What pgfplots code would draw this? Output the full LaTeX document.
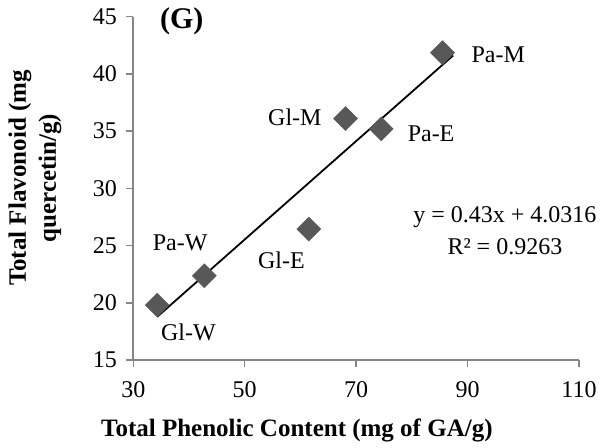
\documentclass[border=0pt]{standalone}
\usepackage{fontspec}
\setmainfont{Liberation Serif}
\usepackage{pgfplots}
\pgfplotsset{compat=1.18}
\definecolor{axgray}{HTML}{868686}
\definecolor{mk}{HTML}{585858}
\begin{document}
\begin{tikzpicture}
\begin{axis}[
  scale only axis, width=445.7pt, height=343.3pt,
  xmin=30, xmax=110, ymin=15, ymax=45,
  xtick={30,50,70,90,110}, ytick={15,20,...,45},
  axis x line*=bottom, axis y line*=left,
  axis line style={axgray, line width=1.8pt, -},
  tick style={axgray, line width=1.5pt},
  tick align=outside, major tick length=7pt,
  /pgf/number format/assume math mode=true,
  xticklabel style={font=\fontsize{24}{26}\selectfont, yshift=-11pt},
  yticklabel style={font=\fontsize{24}{26}\selectfont, xshift=-6pt},
  xlabel={Total Phenolic Content (mg of GA/g)},
  xlabel style={font=\fontsize{25}{28}\selectfont\bfseries, at={(axis description cs:0.367,-0.205)}, anchor=center},
  ylabel={Total Flavonoid (mg\\quercetin/g)},
  ylabel style={align=center, font=\fontsize{25}{30}\selectfont\bfseries, at={(axis description cs:-0.2206,0.53)}, anchor=center},
  clip=false,
]
\coordinate (SW) at (rel axis cs:0,0);
\addplot[black, line width=1.8pt] coordinates {(34.3,18.78) (87.4,41.61)};
\addplot[only marks, mark=square*, mark size=8.5pt, mark options={rotate=45, fill=mk, draw=mk}] coordinates {
  (34.3,19.8) (42.75,22.36) (61.5,26.44) (68.1,36.1) (74.5,35.2) (85.5,41.85)};
\begin{scope}[every node/.style={font=\fontsize{24}{27}\selectfont, anchor=center}]
\node at (axis cs:95.5,41.65) {Pa-M};
\node at (axis cs:59.0,36.2) {Gl-M};
\node at (axis cs:83.45,34.75) {Pa-E};
\node at (axis cs:38.4,25.25) {Pa-W};
\node at (axis cs:56.6,23.7) {Gl-E};
\node at (axis cs:39.9,17.45) {Gl-W};
\node at (axis cs:96.7,27.5) {y = 0.43x + 4.0316};
\node at (axis cs:96.7,24.9) {R² = 0.9263};
\end{scope}
\node[font=\fontsize{30}{32}\selectfont\bfseries, anchor=center] at (axis cs:38.7,44.6) {(G)};
\end{axis}
\pgfresetboundingbox
\path (SW) ++(-133.3pt,-87pt) rectangle ++(610pt,447pt);
\end{tikzpicture}
\end{document}
